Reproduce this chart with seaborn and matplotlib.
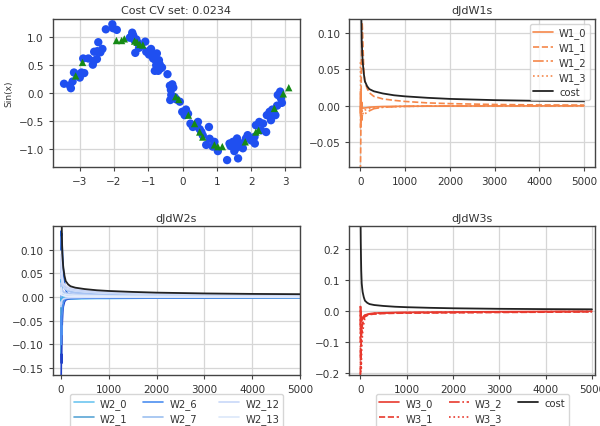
import numpy as np
import pandas as pd
import matplotlib
matplotlib.use("Agg")
import matplotlib.pyplot as plt
import seaborn as sns

# ---------------- data ----------------
train_x = [-3.46, -3.26, -3.29, -3.21, -3.17, -3.08, -3.00, -2.95, -2.87, -2.90, -2.75, -2.59,
           -2.58, -2.49, -2.46, -2.50, -2.34, -2.24, -2.05, -2.03, -1.92, -1.54, -1.47, -1.41,
           -1.38, -1.31, -1.23, -1.09, -1.06, -0.98, -0.91, -0.86, -0.80, -0.77, -0.69, -0.67,
           -0.65, -0.81, -0.71, -0.44, -0.37, -0.32, -0.27, -0.33, -0.36, -0.23, -0.18, -0.08,
           -0.01, 0.06, 0.16, 0.23, 0.30, 0.38, 0.45, 0.50, 0.59, 0.77, 0.69, 0.79, 0.88, 0.93,
           1.03, 1.30, 1.37, 1.47, 1.51, 1.58, 1.59, 1.62, 1.71, 1.76, 1.85, 1.90, 2.10, 2.14,
           2.11, 2.24, 2.29, 2.44, 2.46, 2.54, 2.58, 2.65, 2.71, 2.78, 2.85, 2.87, 2.90, 2.76,
           -1.50, -1.35, -1.27, -0.95, -0.88, -0.75, -0.72, -0.84, -0.92, -0.30, -0.34, -2.62,
           -2.40, -1.44, -0.60, 0.10, 0.42, 0.55, 1.40, 1.66, 2.00, 2.35, 2.62]
train_y = [0.16, 0.08, 0.13, 0.20, 0.36, 0.32, 0.27, 0.36, 0.35, 0.61, 0.61, 0.57,
           0.73, 0.74, 0.90, 0.60, 0.78, 1.13, 1.22, 1.15, 1.12, 0.98, 1.07, 0.94,
           0.71, 0.89, 0.83, 0.91, 0.73, 0.68, 0.70, 0.61, 0.59, 0.49, 0.58, 0.51,
           0.43, 0.39, 0.39, 0.33, 0.125, 0.09, 0.09, -0.04, -0.13, -0.08, -0.12, -0.16,
           -0.34, -0.40, -0.375, -0.55, -0.61, -0.58, -0.52, -0.65, -0.76, -0.61, -0.93, -0.82, -0.96, -0.875,
           -1.04, -1.20, -0.905, -0.875, -1.04, -0.98, -0.815, -1.17, -0.905, -0.99, -0.815, -0.756, -0.786, -0.58,
           -0.905, -0.52, -0.67, -0.70, -0.40, -0.34, -0.49, -0.37, -0.40, -0.04, 0.02, -0.10, -0.18, -0.23,
           1.00, 0.95, 0.80, 0.75, 0.66, 0.70, 0.55, 0.63, 0.78, 0.15, 0.05, 0.50,
           0.72, 1.02, 0.45, -0.30, -0.60, -0.70, -0.95, -0.90, -0.85, -0.55, -0.30]
cv_x = [-3.12, -2.92, -1.93, -1.78, -1.70, -1.40, -1.33, -1.25, -1.16, -0.20, -0.11, 0.17,
        0.35, 0.50, 0.59, 0.93, 1.03, 1.16, 1.83, 2.14, 2.22, 2.68, 2.94, 3.10]
cv_y = [0.30, 0.54, 0.93, 0.93, 0.96, 0.92, 0.90, 0.86, 0.85, -0.07, -0.12, -0.40,
        -0.55, -0.70, -0.79, -0.93, -0.96, -0.96, -0.875, -0.70, -0.67, -0.28, -0.02, 0.09]
cv_cost = 0.0234

iters = [0, 5, 10, 15, 20, 30, 40, 50, 75, 100, 150, 200, 300, 500, 750, 1000, 1500, 2000, 3000, 4000, 5000]
cost = [0.40, 0.30, 0.22, 0.17, 0.13, 0.09, 0.075, 0.062, 0.045, 0.034, 0.027, 0.023, 0.020, 0.017,
        0.0145, 0.013, 0.011, 0.0095, 0.0078, 0.0068, 0.0062]

w1_0 = [-0.01, 0.02, -0.02, 0.01, -0.008, 0.004, -0.004, -0.003, -0.003, -0.003, -0.0025, -0.002,
        -0.0015, -0.001, -0.0008, -0.0006, -0.0004, -0.0003, -0.0002, -0.0001, 0.0]
w1_1 = [-0.09, -0.07, -0.04, 0.0, 0.04, 0.09, 0.115, 0.10, 0.05, 0.033, 0.024, 0.018, 0.013, 0.0095,
        0.0075, 0.006, 0.004, 0.003, 0.0018, 0.0012, 0.001]
w1_2 = [0.0, -0.03, -0.01, -0.025, -0.015, -0.02, -0.014, -0.013, -0.012, -0.011, -0.009, -0.007,
        -0.004, -0.002, -0.0012, -0.0008, -0.0005, -0.0003, -0.0002, -0.0001, 0.0]
w1_3 = [0.06, 0.03, -0.01, 0.02, -0.02, 0.005, -0.015, -0.012, -0.008, -0.006, -0.005, -0.004,
        -0.003, -0.002, -0.0012, -0.0008, -0.0005, -0.0003, -0.0002, -0.0001, 0.0]

w2_0 = [0.07, -0.05, 0.03, -0.03, 0.01, -0.01, 0.005, 0.0, -0.003, -0.004, -0.004, -0.004, -0.004,
        -0.0035, -0.003, -0.003, -0.0025, -0.002, -0.0015, -0.0012, -0.001]
w2_1 = [-0.09, 0.02, -0.06, 0.0, -0.03, 0.005, -0.01, -0.005, -0.004, -0.003, -0.003, -0.0025,
        -0.0025, -0.002, -0.002, -0.0018, -0.0015, -0.0012, -0.001, -0.0008, -0.0006]
w2_2 = [0.02, 0.06, -0.02, 0.03, 0.0, 0.01, 0.004, 0.002, 0.0, -0.001, -0.002, -0.002, -0.002,
        -0.0018, -0.0015, -0.0012, -0.001, -0.0008, -0.0006, -0.0005, -0.0004]
w2_3 = [-0.12, -0.08, -0.10, -0.05, -0.06, -0.02, -0.015, -0.01, -0.006, -0.004, -0.003, -0.0025,
        -0.002, -0.0018, -0.0015, -0.0012, -0.001, -0.0008, -0.0006, -0.0005, -0.0004]
w2_4 = [0.10, 0.14, 0.13, 0.135, 0.12, 0.10, 0.08, 0.06, 0.03, 0.015, 0.006, 0.003, 0.001, 0.0,
        -0.0005, -0.0005, -0.0005, -0.0004, -0.0003, -0.0002, -0.0002]
w2_5 = [-0.17, -0.17, -0.12, -0.14, -0.08, -0.05, -0.03, -0.02, -0.01, -0.006, -0.004, -0.003,
        -0.0025, -0.002, -0.0018, -0.0015, -0.0012, -0.001, -0.0008, -0.0006, -0.0005]
w2_6 = [-0.04, -0.10, -0.06, -0.08, -0.04, -0.03, -0.02, -0.012, -0.006, -0.004, -0.003, -0.003,
        -0.0025, -0.002, -0.002, -0.0018, -0.0015, -0.0012, -0.001, -0.0008, -0.0006]
w2_7 = [0.05, 0.08, 0.06, 0.05, 0.04, 0.035, 0.03, 0.027, 0.022, 0.018, 0.014, 0.012, 0.010, 0.008,
        0.006, 0.005, 0.0035, 0.0025, 0.0015, 0.001, 0.0008]
w2_8 = [0.03, 0.0, 0.02, 0.01, 0.015, 0.012, 0.01, 0.008, 0.006, 0.005, 0.004, 0.0035, 0.003, 0.0025,
        0.002, 0.0015, 0.001, 0.0008, 0.0006, 0.0005, 0.0004]
w2_9 = [0.06, 0.04, 0.05, 0.04, 0.035, 0.03, 0.025, 0.022, 0.018, 0.016, 0.013, 0.011, 0.009, 0.007,
        0.0055, 0.0045, 0.0035, 0.0028, 0.002, 0.0016, 0.0013]
w2_10 = [0.02, 0.03, 0.025, 0.02, 0.018, 0.016, 0.014, 0.012, 0.01, 0.009, 0.008, 0.007, 0.006, 0.005,
         0.004, 0.0035, 0.003, 0.0025, 0.0018, 0.0014, 0.0012]
w2_11 = [0.08, 0.06, 0.05, 0.045, 0.04, 0.035, 0.03, 0.028, 0.025, 0.022, 0.02, 0.018, 0.016, 0.014,
         0.012, 0.011, 0.009, 0.008, 0.0065, 0.0055, 0.005]
w2_12 = [0.04, 0.05, 0.04, 0.035, 0.03, 0.028, 0.025, 0.023, 0.02, 0.018, 0.016, 0.015, 0.013, 0.011,
         0.0095, 0.0085, 0.007, 0.006, 0.005, 0.0045, 0.004]
w2_13 = [0.01, 0.02, 0.015, 0.012, 0.01, 0.009, 0.008, 0.007, 0.006, 0.0055, 0.005, 0.0045, 0.004,
         0.0035, 0.003, 0.0025, 0.002, 0.0018, 0.0015, 0.0012, 0.001]
w2_14 = [-0.02, -0.01, -0.015, -0.01, -0.008, -0.006, -0.005, -0.004, -0.003, -0.002, -0.0015, -0.001,
         -0.0008, -0.0005, -0.0004, -0.0003, -0.0002, -0.0002, -0.0001, -0.0001, 0.0]
w2_15 = [0.09, 0.07, 0.06, 0.05, 0.045, 0.04, 0.035, 0.03, 0.027, 0.025, 0.022, 0.02, 0.018, 0.016,
         0.0135, 0.012, 0.01, 0.0085, 0.007, 0.006, 0.0055]
w2_16 = [0.005, 0.01, 0.008, 0.006, 0.005, 0.004, 0.0035, 0.003, 0.0025, 0.002, 0.0018, 0.0015, 0.0012,
         0.001, 0.0008, 0.0007, 0.0006, 0.0005, 0.0004, 0.0003, 0.0002]

w3_0 = [-0.05, 0.015, -0.02, -0.01, -0.02, -0.03, -0.025, -0.02, -0.015, -0.012, -0.01, -0.008, -0.006,
        -0.005, -0.004, -0.0035, -0.003, -0.0025, -0.0015, -0.0008, 0.0]
w3_1 = [-0.10, -0.05, 0.0, -0.08, -0.06, -0.07, -0.05, -0.04, -0.025, -0.017, -0.013, -0.011, -0.009,
        -0.0075, -0.0065, -0.006, -0.0055, -0.005, -0.004, -0.003, -0.002]
w3_2 = [-0.21, -0.12, -0.15, -0.09, -0.11, -0.06, -0.04, -0.03, -0.02, -0.014, -0.011, -0.009, -0.007,
        -0.006, -0.005, -0.0045, -0.004, -0.0035, -0.0025, -0.0015, -0.001]
w3_3 = [0.017, -0.21, -0.21, -0.16, -0.19, -0.12, -0.09, -0.07, -0.04, -0.02, -0.013, -0.01, -0.008,
        -0.0065, -0.0055, -0.005, -0.0045, -0.004, -0.003, -0.002, -0.0012]

w1_series = [w1_0, w1_1, w1_2, w1_3]
w2_series = [w2_0, w2_1, w2_2, w2_3, w2_4, w2_5, w2_6, w2_7, w2_8, w2_9, w2_10,
             w2_11, w2_12, w2_13, w2_14, w2_15, w2_16]
w3_series = [w3_0, w3_1, w3_2, w3_3]

# ---------------- style ----------------
sns.set_style("ticks", {"axes.grid": True, "grid.color": "#d6d6d6",
                        "axes.edgecolor": "#444444", "xtick.color": "#444444",
                        "ytick.color": "#444444"})
plt.rcParams['font.family'] = ['DejaVu Sans']
plt.rcParams['font.size'] = 7.5
plt.rcParams['xtick.labelsize'] = 7.5
plt.rcParams['ytick.labelsize'] = 7.5
plt.rcParams['text.color'] = '#333333'
plt.rcParams['axes.labelcolor'] = '#333333'
plt.rcParams['xtick.labelcolor'] = '#333333'
plt.rcParams['ytick.labelcolor'] = '#333333'
plt.rcParams['grid.linewidth'] = 0.9
plt.rcParams['axes.linewidth'] = 1.0
plt.rcParams['xtick.major.size'] = 3
plt.rcParams['ytick.major.size'] = 3

fig = plt.figure(figsize=(6.0, 4.27), dpi=100)
ax1 = fig.add_axes([0.088, 0.607, 0.412, 0.347])
ax2 = fig.add_axes([0.582, 0.607, 0.410, 0.347])
ax3 = fig.add_axes([0.088, 0.119, 0.412, 0.349])
ax4 = fig.add_axes([0.582, 0.119, 0.410, 0.349])

# ---- scatter ----
sns.scatterplot(x=train_x, y=train_y, ax=ax1, color="#1f4ff0", marker="o", s=36,
                edgecolor="none", zorder=3)
sns.scatterplot(x=cv_x, y=cv_y, ax=ax1, color="#168a16", marker="^", s=28,
                edgecolor="none", zorder=4)
ax1.set_ylim(-1.32, 1.32)
ax1.set_yticks([-1.0, -0.5, 0.0, 0.5, 1.0])
ax1.set_xticks([-3, -2, -1, 0, 1, 2, 3])
ax1.set_ylabel("Sin(x)", fontsize=6.5)
ax1.set_title(f"Cost CV set: {cv_cost:.4f}", fontsize=8, pad=4)

leg_kw = dict(fontsize=7.2, framealpha=0.8, edgecolor="#cccccc", borderpad=0.35,
              labelspacing=0.4, handlelength=2.0, handletextpad=0.6)

# ---- W1 ----
styles = ['-', '--', '-.', ':']
orange = "#f5874a"
for i, s in enumerate(w1_series):
    sns.lineplot(x=iters, y=s, ax=ax2, color=orange, linestyle=styles[i], linewidth=1.2,
                 label=f"W1_{i}")
sns.lineplot(x=iters, y=cost, ax=ax2, color="#222222", linewidth=1.3, label="cost")
ax2.set_xlim(-250, 5250)
ax2.set_ylim(-0.084, 0.12)
ax2.set_yticks([-0.05, 0.0, 0.05, 0.10])
ax2.set_xticks([0, 1000, 2000, 3000, 4000, 5000])
ax2.set_title("dJdW1s", fontsize=8, pad=4)
ax2.legend(loc="upper right", **leg_kw)

# ---- W2 ----
blues = ['#6ec6f0', '#5aa6d6', '#3fb0e8', '#2f8fd8', '#1f5fd8', '#2040c8', '#4d8ff0',
         '#9cc0f0', '#7aa8f0', '#a8c4f4', '#b0c8f4', '#c0d0f6', '#c8d8f8', '#dce8fa',
         '#cfd8f8', '#d8e0fa', '#e4ecfc']
for i, s in enumerate(w2_series):
    sns.lineplot(x=iters, y=s, ax=ax3, color=blues[i], linewidth=1.2, label=f"W2_{i}")
sns.lineplot(x=iters, y=cost, ax=ax3, color="#222222", linewidth=1.3, label="cost")
ax3.set_xlim(-170, 5000)
ax3.set_ylim(-0.165, 0.15)
ax3.set_yticks([-0.15, -0.10, -0.05, 0.0, 0.05, 0.10])
ax3.set_xticks([0, 1000, 2000, 3000, 4000, 5000])
ax3.set_title("dJdW2s", fontsize=8, pad=4)
ax3.legend(loc="upper center", bbox_to_anchor=(0.5, -0.095), ncol=3, columnspacing=1.6,
           **leg_kw)

# ---- W3 ----
red = "#e8392e"
for i, s in enumerate(w3_series):
    sns.lineplot(x=iters, y=s, ax=ax4, color=red, linestyle=styles[i], linewidth=1.2,
                 label=f"W3_{i}")
sns.lineplot(x=iters, y=cost, ax=ax4, color="#222222", linewidth=1.3, label="cost")
ax4.set_xlim(-240, 5070)
ax4.set_ylim(-0.206, 0.274)
ax4.set_yticks([-0.2, -0.1, 0.0, 0.1, 0.2])
ax4.set_xticks([0, 1000, 2000, 3000, 4000, 5000])
ax4.set_title("dJdW3s", fontsize=8, pad=4)
ax4.legend(loc="upper center", bbox_to_anchor=(0.5, -0.095), ncol=3, columnspacing=1.6,
           **leg_kw)

for ax in (ax1, ax2, ax3, ax4):
    ax.grid(True, color="#d6d6d6", linewidth=0.9)
    ax.set_axisbelow(True)
    for sp in ax.spines.values():
        sp.set_visible(True)
        sp.set_color("#444444")

fig.savefig("out.png", dpi=100)
